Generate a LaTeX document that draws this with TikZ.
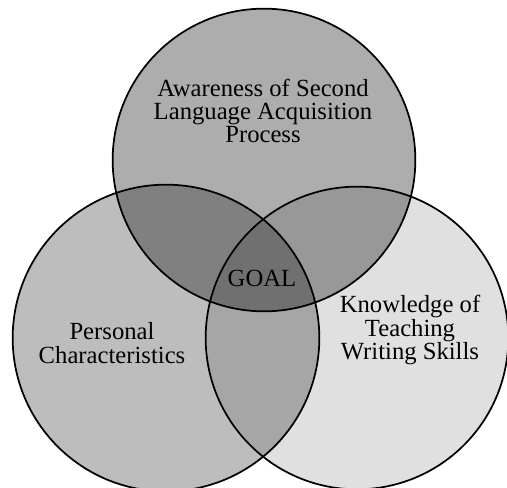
\documentclass[tikz,border=0pt]{standalone}
\usepackage{fontspec}
\setmainfont{Liberation Serif}
\usepackage{tikz}

\tikzset{
  vennline/.style = {draw=black, line width=1.3pt},
  venntext/.style = {align=center, inner sep=0pt,
    font=\fontsize{18.5}{17.5}\selectfont}
}

\begin{document}
\begin{tikzpicture}[x=0.75pt, y=-0.75pt]
\useasboundingbox (0,0) rectangle (507,488);

% three overlapping circles, the darker grey where they overlap
\path
(264,160) coordinate (awareness)
(166,338) coordinate (personal)
(357,338) coordinate (knowledge);

\fill[black, fill opacity=0.32] (awareness) circle [radius=113.5pt];
\fill[black, fill opacity=0.26] (personal)  circle [radius=115pt];
\fill[black, fill opacity=0.12] (knowledge) circle [radius=113.5pt];

\foreach \c/\r in {awareness/113.5pt, personal/115pt, knowledge/113.5pt}
  \draw[vennline] (\c) circle [radius=\r];

%% labels
\path
(263,111) node [venntext] (awarenesstext)
{Awareness of Second \\ Language Acquisition \\ Process};
\path
(112,343) node [venntext] (personaltext)
{Personal \\ Characteristics};
\path
(410,330) node [venntext] (knowledgetext)
{Knowledge of \\ Teaching \\ Writing Skills};
\path
(262,278) node [venntext] (goal) {GOAL};

\end{tikzpicture}
\end{document}
